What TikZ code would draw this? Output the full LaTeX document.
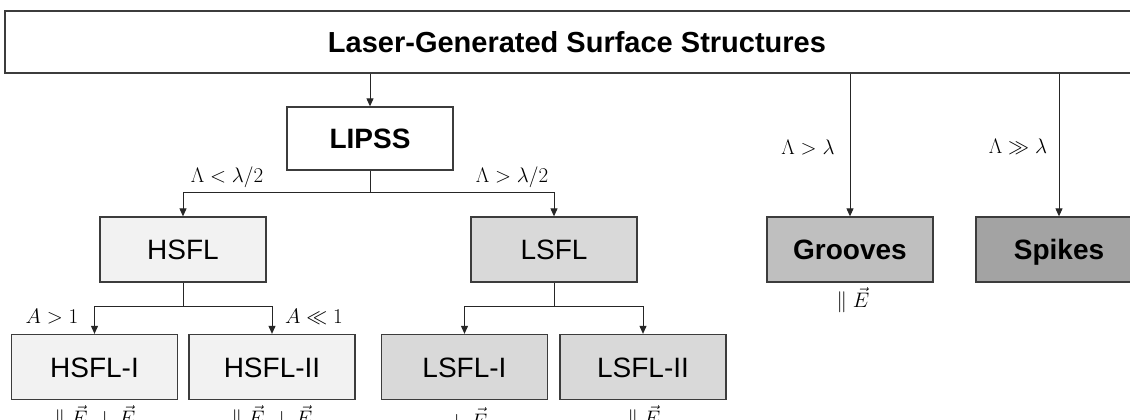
\RequirePackage{fix-cm}
\documentclass[tikz,border=0pt]{standalone}
\usepackage{fontspec}
\setmainfont{Liberation Sans}
\usetikzlibrary{arrows.meta}
\definecolor{hsflgray}{HTML}{F2F2F2}
\definecolor{lsflgray}{HTML}{D9D9D9}
\definecolor{groovegray}{HTML}{BFBFBF}
\definecolor{spikegray}{HTML}{A3A3A3}
\definecolor{edgegray}{HTML}{3C3C3C}
\begin{document}
\begin{tikzpicture}[x=1pt,y=-1pt]
\tikzset{box/.style={draw=edgegray,line width=1.3pt,minimum width=166pt,minimum height=65pt,inner sep=0pt,text height=20.5pt,text depth=0pt,font=\fontsize{28}{30}\selectfont},
  boldbox/.style={box,font=\fontsize{28}{30}\selectfont\bfseries},
  cond/.style={inner sep=0pt,font=\fontsize{21}{23}\selectfont},
  arr/.style={-{Triangle[length=8pt,width=7pt]},line width=1pt,draw=black!85},
  lnk/.style={line width=1pt,draw=black!85}}
\useasboundingbox (0,0) rectangle (1130,420);

\node[box,minimum width=1144pt,minimum height=62pt,font=\fontsize{29}{31}\selectfont\bfseries] (top) at (577,42) {Laser-Generated Surface Structures};
\node[boldbox,minimum height=63pt] (lipss) at (370,138.5) {LIPSS};
\node[box,fill=hsflgray] (hsfl) at (183,249.5) {HSFL};
\node[box,fill=lsflgray] (lsfl) at (554,249.5) {LSFL};
\node[boldbox,fill=groovegray] (grooves) at (850,249.5) {Grooves};
\node[boldbox,fill=spikegray] (spikes) at (1059,249.5) {Spikes};
\node[box,fill=hsflgray] (hsfl1) at (94.5,367) {HSFL-I};
\node[box,fill=hsflgray] (hsfl2) at (272,367) {HSFL-II};
\node[box,fill=lsflgray] (lsfl1) at (464.5,367) {LSFL-I};
\node[box,fill=lsflgray] (lsfl2) at (643,367) {LSFL-II};

% branch points
\coordinate (jl) at (370,192);
\coordinate (jh) at (183,306);
\coordinate (js) at (554,306);

\draw[arr] (lipss.north |- top.south) -- (lipss);
\draw[lnk] (lipss) -- (jl);
\draw[arr] (jl) -| (hsfl);
\draw[arr] (jl) -| (lsfl);
\draw[lnk] (hsfl) -- (jh);
\draw[arr] (jh) -| (hsfl1);
\draw[arr] (jh) -| (hsfl2);
\draw[lnk] (lsfl) -- (js);
\draw[arr] (js) -| (lsfl1);
\draw[arr] (js) -| (lsfl2);
\draw[arr] (grooves.north |- top.south) -- (grooves);
\draw[arr] (spikes.north |- top.south) -- (spikes);

% conditions
\node[cond] (cl) at (227,177) {$\Lambda < \lambda/2$};
\node[cond] (cs) at (512,177) {$\Lambda > \lambda/2$};
\node[cond] (ch1) at (52,317) {$A > 1$};
\node[cond] (ch2) at (314,317) {$A \ll 1$};
\node[cond] (cg) at (808,147) {$\Lambda > \lambda$};
\node[cond] (csp) at (1018,147) {$\Lambda \gg \lambda$};
\node[cond] (eg) at (853,300) {$\parallel\vec{E}$};
\node[cond] (eh1) at (95,418) {$\parallel\vec{E}, \perp\vec{E}$};
\node[cond] (eh2) at (272,418) {$\parallel\vec{E}, \perp\vec{E}$};
\node[cond] (es1) at (468,418) {$\perp\vec{E}$};
\node[cond] (es2) at (644,418) {$\parallel\vec{E}$};
\end{tikzpicture}
\end{document}
